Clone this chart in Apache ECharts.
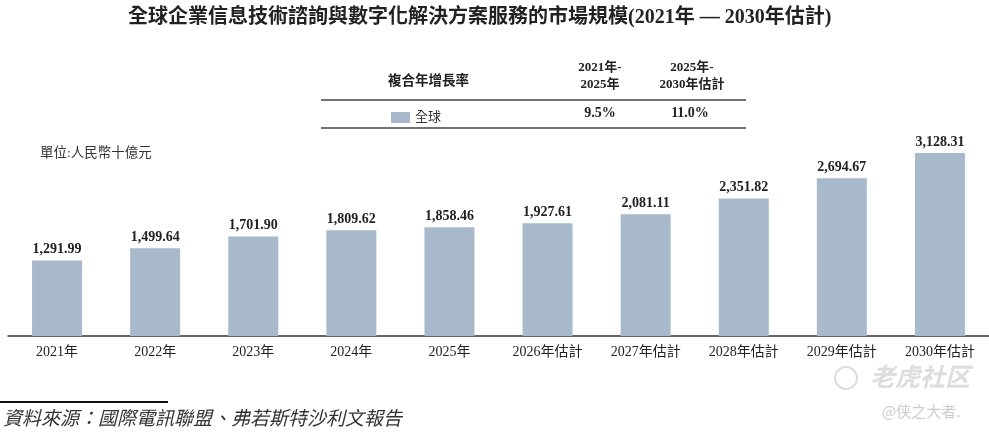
<!DOCTYPE html>
<html>
<head>
<meta charset="utf-8">
<script src="https://cdn.jsdelivr.net/npm/echarts@6/dist/echarts.min.js"></script>
<style>
  html, body { margin: 0; padding: 0; background: #fff; }
  #main { width: 989px; height: 437px; }
</style>
</head>
<body>
<div id="main"></div>
<script>
const years = ['2021年', '2022年', '2023年', '2024年', '2025年',
    '2026年估計', '2027年估計', '2028年估計', '2029年估計', '2030年估計'];
const marketSize = [1291.99, 1499.64, 1701.90, 1809.62, 1858.46,
    1927.61, 2081.11, 2351.82, 2694.67, 3128.31];
const cagrHeaders = ['2021年-\n2025年', '2025年-\n2030年估計'];
const cagrValues = ['9.5%', '11.0%'];

const SERIF = '"Liberation Serif", "Times New Roman", "Noto Sans CJK TC", serif';
const BAR = '#a9b9cc';

const fmt = (v) => v.toLocaleString('en-US', { minimumFractionDigits: 2, maximumFractionDigits: 2 });

const chart = echarts.init(document.getElementById('main'));

chart.setOption({
    animation: false,
    title: {
        text: '全球企業信息技術諮詢與數字化解決方案服務的市場規模(2021年 — 2030年估計)',
        left: 123,
        top: 3,
        textStyle: { fontFamily: SERIF, fontSize: 20, fontWeight: 'bold', color: '#222' },
    },
    legend: {
        data: ['全球'],
        left: 386,
        top: 106,
        icon: 'rect',
        itemWidth: 19,
        itemHeight: 11,
        itemGap: 9,
        textStyle: { fontFamily: SERIF, fontSize: 13, color: '#333' },
    },
    grid: { left: 8, width: 983, top: 102, height: 234 },
    xAxis: {
        type: 'category',
        data: years,
        axisLine: { lineStyle: { color: '#333', width: 1.5 } },
        axisTick: { show: false },
        axisLabel: { fontFamily: SERIF, fontSize: 14, color: '#222', margin: 9 },
    },
    yAxis: {
        type: 'value',
        min: 0,
        max: 4000,
        show: false,
        splitLine: { show: false },
    },
    series: [{
        name: '全球',
        type: 'bar',
        data: marketSize,
        barWidth: 50,
        itemStyle: { color: BAR },
        label: {
            show: true,
            position: 'top',
            distance: 4,
            formatter: (p) => fmt(p.value),
            fontFamily: SERIF,
            fontSize: 14,
            fontWeight: 'bold',
            color: '#222',
        },
    }],
    graphic: [
        { type: 'text', left: 388, top: 75,
            style: { text: '複合年增長率', font: 'bold 13.5px ' + SERIF, fill: '#222' } },
        { type: 'text', x: 600, y: 59,
            style: { text: cagrHeaders[0], font: 'bold 13px ' + SERIF, fill: '#222', align: 'center', lineHeight: 17 } },
        { type: 'text', x: 692, y: 59,
            style: { text: cagrHeaders[1], font: 'bold 13px ' + SERIF, fill: '#222', align: 'center', lineHeight: 17 } },
        { type: 'line', shape: { x1: 321, y1: 100, x2: 746, y2: 100 },
            style: { stroke: '#444', lineWidth: 1.5 } },
        { type: 'text', x: 600, y: 106,
            style: { text: cagrValues[0], font: 'bold 14px ' + SERIF, fill: '#222', align: 'center' } },
        { type: 'text', x: 690, y: 106,
            style: { text: cagrValues[1], font: 'bold 14px ' + SERIF, fill: '#222', align: 'center' } },
        { type: 'line', shape: { x1: 321, y1: 128, x2: 746, y2: 128 },
            style: { stroke: '#444', lineWidth: 1.5 } },
        { type: 'text', left: 40, top: 147,
            style: { text: '單位:人民幣十億元', font: '13.5px ' + SERIF, fill: '#333' } },
        { type: 'line', shape: { x1: 0, y1: 402, x2: 168, y2: 402 },
            style: { stroke: '#111', lineWidth: 2 } },
        { type: 'text', left: 3, top: 410,
            style: { text: '資料來源：國際電訊聯盟、弗若斯特沙利文報告', font: 'italic 19px ' + SERIF, fill: '#333' } },
        { type: 'circle', shape: { cx: 846, cy: 378, r: 11 },
            style: { fill: 'none', stroke: '#ddd', lineWidth: 2 } },
        { type: 'text', left: 870, top: 364,
            style: { text: '老虎社区', font: 'italic bold 25px "Noto Sans CJK SC", sans-serif', fill: '#ddd' } },
        { type: 'text', left: 882, top: 404,
            style: { text: '@侠之大者.', font: '15px "Noto Sans CJK SC", sans-serif', fill: '#ccc' } },
    ],
});
</script>
</body>
</html>
